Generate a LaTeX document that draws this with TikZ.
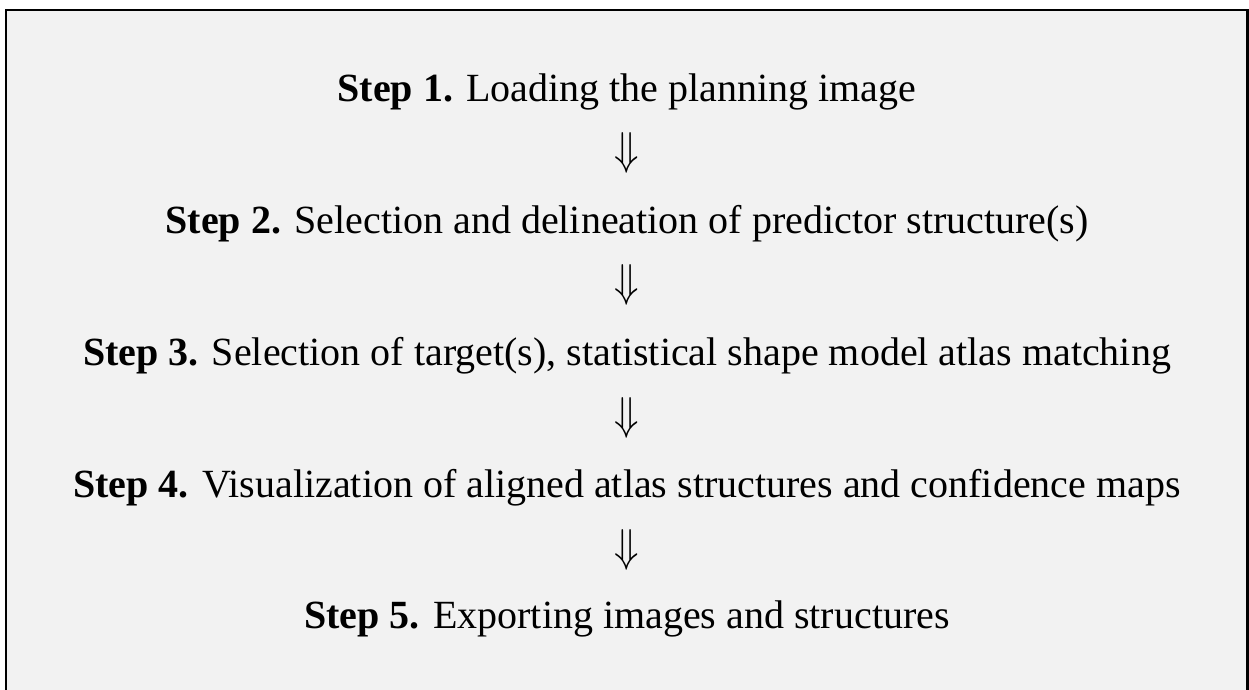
\documentclass[tikz,border=0pt]{standalone}
\usepackage{graphicx}
\usepackage{fontspec}
\setmainfont{Liberation Serif}
\newcommand{\bigDown}{\scalebox{4.0}[4.6]{$\Downarrow$}}
\begin{document}
\begin{tikzpicture}[x=1pt,y=-1pt,
  steptext/.style={anchor=base,inner sep=0pt,font=\fontsize{40}{48}\selectfont},
  downarrow/.style={anchor=base,inner sep=0pt}]
\useasboundingbox (0,0) rectangle (1249,690);
\fill[white] (0,0) rectangle (1249,690);
\draw[line width=2.5pt,fill={rgb,255:red,242;green,242;blue,242}] (6,700) -- (6,10) -- (1247.5,10) -- (1247.5,700);
\node[steptext] (s1) at (627,102) {\textbf{Step 1.} Loading the planning image};
\node[downarrow] (a1) at (627,164) {\bigDown};
\node[steptext] (s2) at (627,233.5) {\textbf{Step 2.} Selection and delineation of predictor structure(s)};
\node[downarrow] (a2) at (627,296) {\bigDown};
\node[steptext] (s3) at (627,365) {\textbf{Step 3.} Selection of target(s), statistical shape model atlas matching};
\node[downarrow] (a3) at (627,429) {\bigDown};
\node[steptext] (s4) at (627,497) {\textbf{Step 4.} Visualization of aligned atlas structures and confidence maps};
\node[downarrow] (a4) at (627,561) {\bigDown};
\node[steptext] (s5) at (627,628) {\textbf{Step 5.} Exporting images and structures};
\end{tikzpicture}
\end{document}
